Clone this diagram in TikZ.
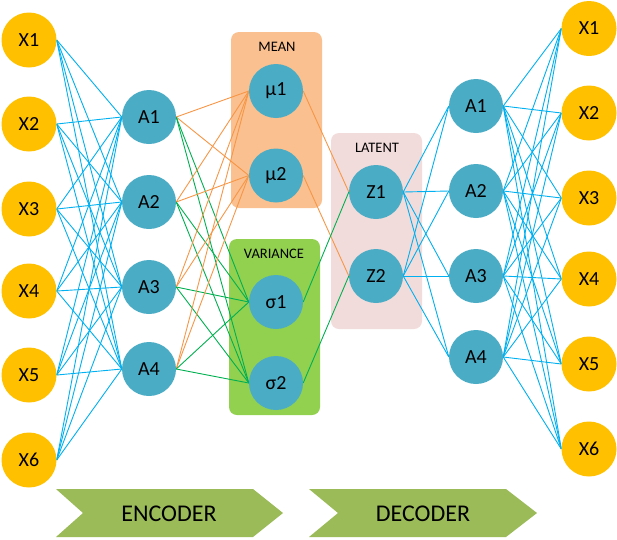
\documentclass[tikz,border=0pt]{standalone}
\usepackage{fontspec}
\setmainfont{Carlito}
\pgfdeclarelayer{boxes}
\pgfdeclarelayer{edgelayer}
\pgfsetlayers{boxes,edgelayer,main}
\definecolor{xcol}{RGB}{255,192,0}
\definecolor{acol}{RGB}{75,172,198}
\definecolor{bluel}{RGB}{0,176,240}
\definecolor{orangel}{RGB}{247,150,70}
\definecolor{greenl}{RGB}{0,176,80}
\definecolor{meanfill}{RGB}{250,192,143}
\definecolor{varfill}{RGB}{146,208,80}
\definecolor{latfill}{RGB}{242,220,219}
\definecolor{chev}{RGB}{155,187,89}
\begin{document}
\begin{tikzpicture}[x=1pt,y=-1pt,
  inode/.style={circle,fill=xcol,minimum size=55pt,inner sep=0pt,font=\fontsize{20}{20}\selectfont},
  hnode/.style={circle,fill=acol,minimum size=54pt,inner sep=0pt,font=\fontsize{20}{20}\selectfont},
  groupbox/.style={rounded corners=8pt,minimum width=91pt,inner sep=0pt},
  blab/.style={font=\fontsize{14.5}{14.5}\selectfont,inner sep=0pt},
  chevlab/.style={font=\fontsize{24}{24}\selectfont,inner sep=0pt},
  bl/.style={draw=bluel,line width=0.9pt},
  ol/.style={draw=orangel,line width=0.9pt},
  gl/.style={draw=greenl,line width=0.9pt}]
\useasboundingbox (0,0) rectangle (617,539);
% group boxes
\begin{pgfonlayer}{boxes}
\node[groupbox,fill=meanfill,minimum height=176pt] (meanbox) at (276.5,120) {};
\node[groupbox,fill=varfill,minimum height=176pt] (varbox) at (274.5,327) {};
\node[groupbox,fill=latfill,minimum height=196pt] (latbox) at (376.5,231) {};
\end{pgfonlayer}
\node[blab] (meanlab) at (277,47) {MEAN};
\node[blab] (varlab) at (274,254) {VARIANCE};
\node[blab] (latlab) at (377,148) {LATENT};
% input nodes
\foreach \i/\y in {1/40,2/124,3/209,4/291,5/375,6/460}
  \node[inode] (x\i) at (29,\y) {X\i};
% encoder hidden
\foreach \i/\y in {1/117,2/202,3/287,4/369}
  \node[hnode] (a\i) at (149,\y) {A\i};
% mean / variance
\node[hnode] (m1) at (276,91) {μ1};
\node[hnode] (m2) at (276,175.5) {μ2};
\node[hnode] (s1) at (276,302) {σ1};
\node[hnode] (s2) at (276,383) {σ2};
% latent
\node[hnode] (z1) at (376,192) {Z1};
\node[hnode] (z2) at (376,276) {Z2};
% decoder hidden
\foreach \i/\y in {1/106,2/191,3/276,4/357}
  \node[hnode] (b\i) at (476,\y) {A\i};
% outputs
\foreach \i/\y in {1/28.5,2/113,3/198,4/279,5/364,6/449}
  \node[inode] (y\i) at (589,\y) {X\i};
% edges
\begin{pgfonlayer}{edgelayer}
\foreach \i in {1,...,6}
  \foreach \j in {1,...,4}
    \draw[bl] (x\i.east) -- (a\j.west);
\foreach \j in {1,...,4} {
  \draw[ol] (a\j.east) -- (m1.west);
  \draw[ol] (a\j.east) -- (m2.west);
  \draw[gl] (a\j.east) -- (s1.west);
  \draw[gl] (a\j.east) -- (s2.west);
}
\draw[ol] (m1.east) -- (z1.west);
\draw[ol] (m2.east) -- (z2.west);
\draw[gl] (s1.east) -- (z1.west);
\draw[gl] (s2.east) -- (z2.west);
\foreach \j in {1,...,4} {
  \draw[bl] (z1.east) -- (b\j.west);
  \draw[bl] (z2.east) -- (b\j.west);
}
\foreach \j in {1,...,4}
  \foreach \i in {1,...,6}
    \draw[bl] (b\j.east) -- (y\i.west);
\end{pgfonlayer}
% chevrons
\fill[chev] (56,489) -- (253,489) -- (283,513) -- (253,537) -- (56,537) -- (83,513) -- cycle;
\fill[chev] (309,489) -- (506,489) -- (537,513) -- (506,537) -- (309,537) -- (338,513) -- cycle;
\node[chevlab] (enc) at (169,514) {ENCODER};
\node[chevlab] (dec) at (423,514) {DECODER};
\end{tikzpicture}
\end{document}
